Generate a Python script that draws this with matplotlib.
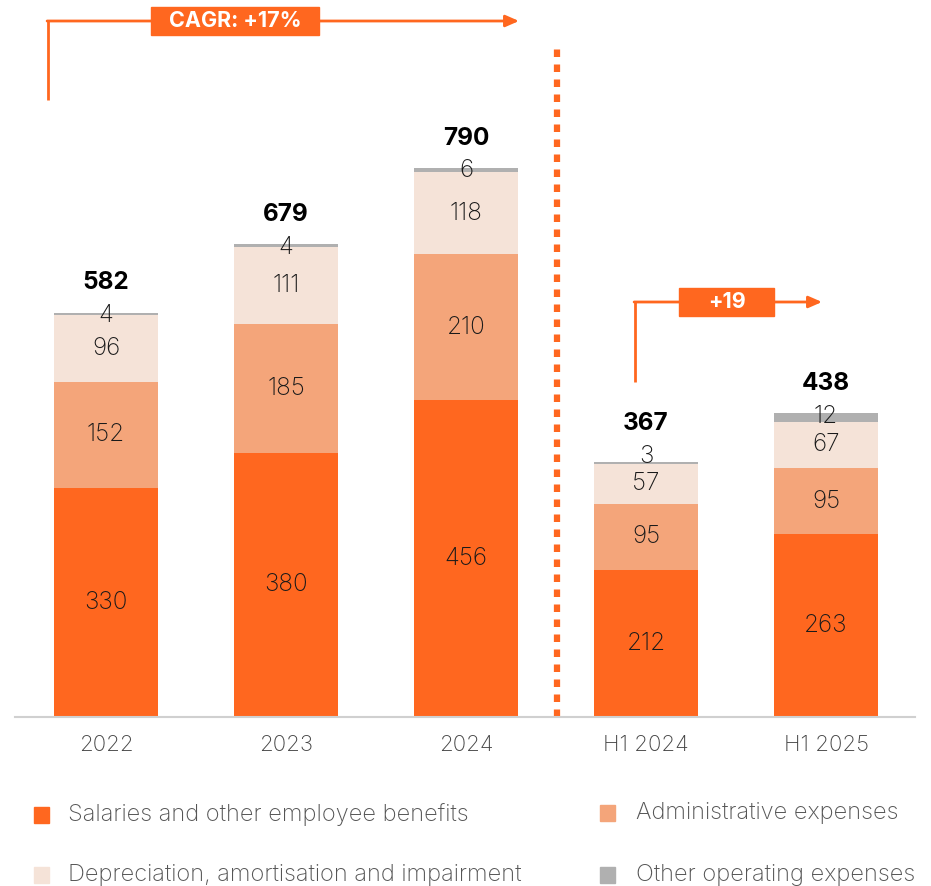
import matplotlib
matplotlib.use("Agg")
import matplotlib.pyplot as plt
from matplotlib.patches import Rectangle
import numpy as np

plt.rcParams['font.family'] = ['Inter', 'DejaVu Sans']

categories = ["2022", "2023", "2024", "H1 2024", "H1 2025"]
salaries = [330, 380, 456, 212, 263]
admin = [152, 185, 210, 95, 95]
deprec = [96, 111, 118, 57, 67]
other = [4, 4, 6, 3, 12]
totals = [582, 679, 790, 367, 438]
series_names = ["Salaries and other employee benefits", "Administrative expenses",
                "Depreciation, amortisation and impairment", "Other operating expenses"]
cagr_label = "CAGR: +17%"
delta_label = "+19"

colors = ["#FF671F", "#F4A57A", "#F5E3D8", "#B0B0B0"]
ORANGE = "#FF671F"

W, H = 931, 886
fig = plt.figure(figsize=(W/100, H/100), dpi=100)
ax = fig.add_axes([15/W, (H-717)/H, 900/W, 717/H])
px_per_unit = 0.695
ax.set_ylim(0, 717/px_per_unit)
ax.set_xlim((15-106)/180, (915-106)/180)

x = np.arange(len(categories))
bw = 104/180
bottom = np.zeros(len(categories))
series = [salaries, admin, deprec, other]
prev_centers = np.zeros(len(categories))
other_label_y = np.zeros(len(categories))
for vals, c in zip(series, colors):
    ax.bar(x, vals, bw, bottom=bottom, color=c, linewidth=0)
    centers = bottom + np.array(vals)/2
    for i, v in enumerate(vals):
        if c == colors[3]:
            yv = max(bottom[i] + v - 4, prev_centers[i] + 40)
            other_label_y[i] = yv
        else:
            yv = centers[i]
        ax.text(x[i], yv, str(v), ha='center', va='center', fontsize=17.5, color='#1a1a1a',
                fontweight='light')
    prev_centers = centers
    bottom += np.array(vals)

for i, t in enumerate(totals):
    ax.text(x[i], max(t + 42, other_label_y[i] + 47), str(t), ha='center', va='center',
            fontsize=17.5, fontweight='bold', color='#000000')

for s in ['top', 'right', 'left']:
    ax.spines[s].set_visible(False)
ax.spines['bottom'].set_color('#D0D0D0')
ax.spines['bottom'].set_linewidth(1.5)
ax.set_yticks([])
ax.set_xticks(x)
ax.set_xticklabels(categories, fontsize=16, color='#444444', fontweight='light')
ax.tick_params(axis='x', length=0, pad=13)

# dotted separator
sep_x = (557-106)/180
ax.plot([sep_x, sep_x], [0, (717-42)/px_per_unit], color=ORANGE, lw=4.5,
        linestyle=(0, (1.2, 1.2)), solid_capstyle='butt', clip_on=False)

def dx(px):
    return (px - 106)/180

def dy(py):
    return (717 - py)/px_per_unit

def arrow_bracket(x0, ybot, ytop, xend, label, box_x0, box_x1, fs):
    ax.plot([x0, x0], [ybot, ytop], color=ORANGE, lw=2, clip_on=False, solid_capstyle='butt')
    ax.annotate('', xy=(xend, ytop), xytext=(x0 - 0.005, ytop),
                arrowprops=dict(arrowstyle='-|>,head_length=0.8,head_width=0.35',
                                color=ORANGE, lw=2, shrinkA=0, shrinkB=0),
                annotation_clip=False)
    bh = 28/px_per_unit
    ax.add_patch(Rectangle((box_x0, ytop - bh/2), box_x1 - box_x0, bh,
                           color=ORANGE, clip_on=False, zorder=3))
    ax.text((box_x0 + box_x1)/2, ytop, label, ha='center', va='center', color='white',
            fontsize=fs, fontweight='bold', zorder=4)

arrow_bracket(dx(48), dy(100), dy(21), dx(519), cagr_label, dx(151), dx(319), 15.5)
arrow_bracket(dx(635), dy(382), dy(302), dx(822), delta_label, dx(679), dx(774), 15.5)

# legend
leg_pos = [(34, 815, 68), (600, 813, 636), (34, 875, 68), (600, 875, 636)]
for (mx, my, tx), name, c in zip(leg_pos, series_names, colors):
    fig.patches.append(Rectangle((mx/W, (H - my - 8)/H), 15/W, 16/H, color=c,
                                 transform=fig.transFigure, figure=fig))
    fig.text(tx/W, (H - my)/H, name, ha='left', va='center', fontsize=17, color='#555555',
             fontweight='light')

fig.savefig("out.png", dpi=100)
